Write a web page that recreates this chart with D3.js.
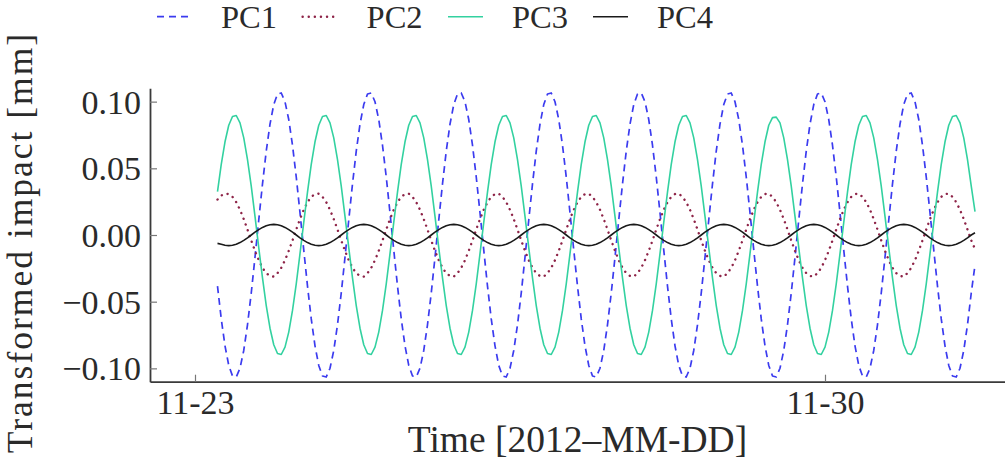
<!DOCTYPE html>
<html>
<head>
<meta charset="utf-8">
<script src="https://cdn.jsdelivr.net/npm/d3@7"></script>
<style>
  html, body { margin: 0; padding: 0; background: #fff; }
  svg { display: block; }
  text { font-family: "Liberation Serif", "DejaVu Serif", serif; fill: #2a2a2a; }
</style>
</head>
<body>
<svg id="chart" width="1005" height="473"></svg>
<script>
// ---- data (hourly samples, 2012-11-23 06:00 .. 2012-12-01 16:00) ----
const startTime = "2012-11-23T06:00:00";
const stepHours = 1;
const seriesNames = ["PC1", "PC2", "PC3", "PC4"];

const pc1 = [
  -0.0383, -0.0629, -0.0831, -0.0978, -0.1057, -0.1065, -0.0999, -0.0866, -0.0673, -0.0435, -0.0167, 0.0112, 0.0383, 0.0629, 0.0831, 0.0978, 0.1057, 0.1065,
  0.0999, 0.0866, 0.0673, 0.0435, 0.0167, -0.0112, -0.0383, -0.0629, -0.0831, -0.0978, -0.1057, -0.1065, -0.0999, -0.0866, -0.0673, -0.0435, -0.0167, 0.0112, 0.0383, 0.0629, 0.0831, 0.0978, 0.1057, 0.1065,
  0.0999, 0.0866, 0.0673, 0.0435, 0.0167, -0.0112, -0.0383, -0.0629, -0.0831, -0.0978, -0.1057, -0.1065, -0.0999, -0.0866, -0.0673, -0.0435, -0.0167, 0.0112, 0.0383, 0.0629, 0.0831, 0.0978, 0.1057, 0.1065,
  0.0999, 0.0866, 0.0673, 0.0435, 0.0167, -0.0112, -0.0383, -0.0629, -0.0831, -0.0978, -0.1057, -0.1065, -0.0999, -0.0866, -0.0673, -0.0435, -0.0167, 0.0112, 0.0383, 0.0629, 0.0831, 0.0978, 0.1057, 0.1065,
  0.0999, 0.0866, 0.0673, 0.0435, 0.0167, -0.0112, -0.0383, -0.0629, -0.0831, -0.0978, -0.1057, -0.1065, -0.0999, -0.0866, -0.0673, -0.0435, -0.0167, 0.0112, 0.0383, 0.0629, 0.0831, 0.0978, 0.1057, 0.1065,
  0.0999, 0.0866, 0.0673, 0.0435, 0.0167, -0.0112, -0.0383, -0.0629, -0.0831, -0.0978, -0.1057, -0.1065, -0.0999, -0.0866, -0.0673, -0.0435, -0.0167, 0.0112, 0.0383, 0.0629, 0.0831, 0.0978, 0.1057, 0.1065,
  0.0999, 0.0866, 0.0673, 0.0435, 0.0167, -0.0112, -0.0383, -0.0629, -0.0831, -0.0978, -0.1057, -0.1065, -0.0999, -0.0866, -0.0673, -0.0435, -0.0167, 0.0112, 0.0383, 0.0629, 0.0831, 0.0978, 0.1057, 0.1065,
  0.0999, 0.0866, 0.0673, 0.0435, 0.0167, -0.0112, -0.0383, -0.0629, -0.0831, -0.0978, -0.1057, -0.1065, -0.0999, -0.0866, -0.0673, -0.0435, -0.0167, 0.0112, 0.0383, 0.0629, 0.0831, 0.0978, 0.1057, 0.1065,
  0.0999, 0.0866, 0.0673, 0.0435, 0.0167, -0.0112, -0.0383, -0.0629, -0.0831, -0.0978, -0.1057, -0.1065, -0.0999, -0.0866, -0.0673, -0.0435, -0.0225
];

const pc2 = [
  0.0266, 0.0296, 0.0310, 0.0307, 0.0286, 0.0246, 0.0189, 0.0119, 0.0041, -0.0041, -0.0119, -0.0189, -0.0246, -0.0286, -0.0307, -0.0312, -0.0286, -0.0246,
  -0.0189, -0.0119, -0.0041, 0.0041, 0.0119, 0.0189, 0.0246, 0.0286, 0.0307, 0.0310, 0.0286, 0.0246, 0.0189, 0.0119, 0.0041, -0.0041, -0.0119, -0.0189, -0.0246, -0.0286, -0.0307, -0.0312, -0.0286, -0.0246,
  -0.0189, -0.0119, -0.0041, 0.0041, 0.0119, 0.0189, 0.0246, 0.0286, 0.0307, 0.0310, 0.0286, 0.0246, 0.0189, 0.0119, 0.0041, -0.0041, -0.0119, -0.0189, -0.0246, -0.0286, -0.0307, -0.0312, -0.0286, -0.0246,
  -0.0189, -0.0119, -0.0041, 0.0041, 0.0119, 0.0189, 0.0246, 0.0286, 0.0307, 0.0310, 0.0286, 0.0246, 0.0189, 0.0119, 0.0041, -0.0041, -0.0119, -0.0189, -0.0246, -0.0286, -0.0307, -0.0312, -0.0286, -0.0246,
  -0.0189, -0.0119, -0.0041, 0.0041, 0.0119, 0.0189, 0.0246, 0.0286, 0.0307, 0.0310, 0.0286, 0.0246, 0.0189, 0.0119, 0.0041, -0.0041, -0.0119, -0.0189, -0.0246, -0.0286, -0.0307, -0.0312, -0.0286, -0.0246,
  -0.0189, -0.0119, -0.0041, 0.0041, 0.0119, 0.0189, 0.0246, 0.0286, 0.0307, 0.0310, 0.0286, 0.0246, 0.0189, 0.0119, 0.0041, -0.0041, -0.0119, -0.0189, -0.0246, -0.0286, -0.0307, -0.0312, -0.0286, -0.0246,
  -0.0189, -0.0119, -0.0041, 0.0041, 0.0119, 0.0189, 0.0246, 0.0286, 0.0307, 0.0310, 0.0286, 0.0246, 0.0189, 0.0119, 0.0041, -0.0041, -0.0119, -0.0189, -0.0246, -0.0286, -0.0307, -0.0312, -0.0286, -0.0246,
  -0.0189, -0.0119, -0.0041, 0.0041, 0.0119, 0.0189, 0.0246, 0.0286, 0.0307, 0.0310, 0.0286, 0.0246, 0.0189, 0.0119, 0.0041, -0.0041, -0.0119, -0.0189, -0.0246, -0.0286, -0.0307, -0.0312, -0.0286, -0.0246,
  -0.0189, -0.0119, -0.0041, 0.0041, 0.0119, 0.0189, 0.0246, 0.0286, 0.0307, 0.0310, 0.0286, 0.0246, 0.0189, 0.0119, 0.0041, -0.0041, -0.0105
];

const pc3 = [
  0.0325, 0.0529, 0.0699, 0.0823, 0.0889, 0.0896, 0.0841, 0.0728, 0.0566, 0.0366, 0.0140, -0.0095, -0.0322, -0.0529, -0.0699, -0.0823, -0.0889, -0.0896,
  -0.0841, -0.0728, -0.0566, -0.0366, -0.0140, 0.0095, 0.0322, 0.0529, 0.0699, 0.0823, 0.0889, 0.0896, 0.0841, 0.0728, 0.0566, 0.0366, 0.0140, -0.0095, -0.0322, -0.0529, -0.0699, -0.0823, -0.0889, -0.0896,
  -0.0841, -0.0728, -0.0566, -0.0366, -0.0140, 0.0095, 0.0322, 0.0529, 0.0699, 0.0823, 0.0889, 0.0896, 0.0841, 0.0728, 0.0566, 0.0366, 0.0140, -0.0095, -0.0322, -0.0529, -0.0699, -0.0823, -0.0889, -0.0896,
  -0.0841, -0.0728, -0.0566, -0.0366, -0.0140, 0.0095, 0.0322, 0.0529, 0.0699, 0.0823, 0.0889, 0.0896, 0.0841, 0.0728, 0.0566, 0.0366, 0.0140, -0.0095, -0.0322, -0.0529, -0.0699, -0.0823, -0.0889, -0.0896,
  -0.0841, -0.0728, -0.0566, -0.0366, -0.0140, 0.0095, 0.0322, 0.0529, 0.0699, 0.0823, 0.0889, 0.0896, 0.0841, 0.0728, 0.0566, 0.0366, 0.0140, -0.0095, -0.0322, -0.0529, -0.0699, -0.0823, -0.0889, -0.0896,
  -0.0841, -0.0728, -0.0566, -0.0366, -0.0140, 0.0095, 0.0322, 0.0529, 0.0699, 0.0823, 0.0889, 0.0896, 0.0841, 0.0728, 0.0566, 0.0366, 0.0140, -0.0095, -0.0322, -0.0529, -0.0699, -0.0823, -0.0889, -0.0896,
  -0.0841, -0.0728, -0.0566, -0.0366, -0.0140, 0.0095, 0.0322, 0.0529, 0.0699, 0.0823, 0.0880, 0.0884, 0.0841, 0.0728, 0.0566, 0.0366, 0.0140, -0.0095, -0.0322, -0.0529, -0.0699, -0.0823, -0.0889, -0.0896,
  -0.0841, -0.0728, -0.0566, -0.0366, -0.0140, 0.0095, 0.0322, 0.0529, 0.0699, 0.0823, 0.0889, 0.0896, 0.0841, 0.0728, 0.0566, 0.0366, 0.0140, -0.0095, -0.0322, -0.0529, -0.0699, -0.0823, -0.0889, -0.0896,
  -0.0841, -0.0728, -0.0566, -0.0366, -0.0140, 0.0095, 0.0322, 0.0529, 0.0699, 0.0823, 0.0889, 0.0896, 0.0841, 0.0728, 0.0566, 0.0366, 0.0175
];

const pc4 = [
  -0.0063, -0.0069, -0.0077, -0.0080, -0.0077, -0.0069, -0.0057, -0.0040, -0.0021, 0.0000, 0.0021, 0.0040, 0.0057, 0.0069, 0.0077, 0.0080, 0.0077, 0.0069,
  0.0057, 0.0040, 0.0021, 0.0000, -0.0021, -0.0040, -0.0057, -0.0069, -0.0077, -0.0080, -0.0077, -0.0069, -0.0057, -0.0040, -0.0021, 0.0000, 0.0021, 0.0040, 0.0057, 0.0069, 0.0077, 0.0080, 0.0077, 0.0069,
  0.0057, 0.0040, 0.0021, 0.0000, -0.0021, -0.0040, -0.0057, -0.0069, -0.0077, -0.0080, -0.0077, -0.0069, -0.0057, -0.0040, -0.0021, 0.0000, 0.0021, 0.0040, 0.0057, 0.0069, 0.0077, 0.0080, 0.0077, 0.0069,
  0.0057, 0.0040, 0.0021, 0.0000, -0.0021, -0.0040, -0.0057, -0.0069, -0.0077, -0.0080, -0.0077, -0.0069, -0.0057, -0.0040, -0.0021, 0.0000, 0.0021, 0.0040, 0.0057, 0.0069, 0.0077, 0.0080, 0.0077, 0.0069,
  0.0057, 0.0040, 0.0021, 0.0000, -0.0021, -0.0040, -0.0057, -0.0069, -0.0077, -0.0080, -0.0077, -0.0069, -0.0057, -0.0040, -0.0021, 0.0000, 0.0021, 0.0040, 0.0057, 0.0069, 0.0077, 0.0080, 0.0077, 0.0069,
  0.0057, 0.0040, 0.0021, 0.0000, -0.0021, -0.0040, -0.0057, -0.0069, -0.0077, -0.0080, -0.0077, -0.0069, -0.0057, -0.0040, -0.0021, 0.0000, 0.0021, 0.0040, 0.0057, 0.0069, 0.0077, 0.0080, 0.0077, 0.0069,
  0.0057, 0.0040, 0.0021, 0.0000, -0.0021, -0.0040, -0.0057, -0.0069, -0.0077, -0.0080, -0.0077, -0.0069, -0.0057, -0.0040, -0.0021, 0.0000, 0.0021, 0.0040, 0.0057, 0.0069, 0.0077, 0.0080, 0.0077, 0.0069,
  0.0057, 0.0040, 0.0021, 0.0000, -0.0021, -0.0040, -0.0057, -0.0069, -0.0077, -0.0080, -0.0077, -0.0069, -0.0057, -0.0040, -0.0021, 0.0000, 0.0021, 0.0040, 0.0057, 0.0069, 0.0077, 0.0080, 0.0077, 0.0069,
  0.0057, 0.0040, 0.0021, 0.0000, -0.0021, -0.0040, -0.0057, -0.0069, -0.0077, -0.0080, -0.0077, -0.0069, -0.0057, -0.0040, -0.0021, 0.0000, 0.0017
];

const xTickLabels = ["2012-11-23", "2012-11-30"];
const yTickValues = [-0.10, -0.05, 0.00, 0.05, 0.10];
const xDomain = ["2012-11-22T12:00:00", "2012-12-02T00:00:00"];
const yDomain = [-0.11, 0.11];

// ---- layout / style ----
const margin = { left: 150, right: 0, top: 88.3, bottom: 91.3 };
const W = 1005, H = 473;
const styles = {
  PC1: { color: "#3b3bef", dash: "7,5", width: 1.7, cap: "butt" },
  PC2: { color: "#8e2448", dash: "0.1,6", width: 2.4, cap: "round" },
  PC3: { color: "#33d1a0", dash: null, width: 1.6, cap: "butt" },
  PC4: { color: "#1a1a1a", dash: null, width: 1.6, cap: "butt" }
};

const svg = d3.select("#chart");
const parse = d3.isoParse;
const t0 = parse(startTime);
const values = { PC1: pc1, PC2: pc2, PC3: pc3, PC4: pc4 };

const x = d3.scaleTime()
  .domain(xDomain.map(parse))
  .range([margin.left, W - margin.right]);
const y = d3.scaleLinear()
  .domain(yDomain)
  .range([H - margin.bottom, margin.top]);

// lines
const line = d3.line()
  .x((d, i) => x(d3.timeHour.offset(t0, i * stepHours)))
  .y(d => y(d));

const plot = svg.append("g");
seriesNames.forEach(name => {
  const s = styles[name];
  plot.append("path")
    .attr("d", line(values[name]))
    .attr("fill", "none")
    .attr("stroke", s.color)
    .attr("stroke-width", s.width)
    .attr("stroke-dasharray", s.dash)
    .attr("stroke-linecap", s.cap)
    .attr("stroke-linejoin", "round");
});

// axes
const xAxis = d3.axisBottom(x)
  .tickValues(xTickLabels.map(d => parse(d)))
  .tickFormat(d3.timeFormat("%m-%d"))
  .tickSizeInner(-7)
  .tickSizeOuter(0)
  .tickPadding(6);
const yAxis = d3.axisLeft(y)
  .tickValues(yTickValues)
  .tickFormat(d3.format(".2f"))
  .tickSizeInner(-7)
  .tickSizeOuter(0)
  .tickPadding(9);

const gx = svg.append("g")
  .attr("transform", `translate(0,${H - margin.bottom})`)
  .call(xAxis);
const gy = svg.append("g")
  .attr("transform", `translate(${margin.left},0)`)
  .call(yAxis);

[gx, gy].forEach(g => {
  g.select(".domain").attr("stroke", "#3a3a3a").attr("stroke-width", 1.8);
  g.selectAll(".tick line").attr("stroke", "#777").attr("stroke-width", 1.2);
  g.selectAll(".tick text")
    .attr("fill", "#2a2a2a")
    .style("font-family", '"Liberation Serif", serif')
    .style("font-size", "34px");
});
gx.selectAll(".tick text").attr("dy", "0.78em");
gy.selectAll(".tick text").attr("dy", "0.34em");

// axis titles
svg.append("text")
  .attr("x", (margin.left + W - margin.right) / 2)
  .attr("y", 452)
  .attr("text-anchor", "middle")
  .style("font-size", "37.5px")
  .text("Time [2012–MM-DD]");

svg.append("text")
  .attr("transform", `translate(31.5,242.5) rotate(-90)`)
  .attr("text-anchor", "middle")
  .style("font-size", "35.5px")
  .style("letter-spacing", "2px")
  .text("Transformed impact [mm]");

// legend
const legendX = [157, 302.6, 448, 593];
const legend = svg.append("g");
seriesNames.forEach((name, i) => {
  const s = styles[name];
  const g = legend.append("g").attr("transform", `translate(${legendX[i]},0)`);
  g.append("line")
    .attr("x1", 0).attr("x2", 35)
    .attr("y1", 16.7).attr("y2", 16.7)
    .attr("stroke", s.color)
    .attr("stroke-width", s.width)
    .attr("stroke-dasharray", s.dash)
    .attr("stroke-linecap", s.cap);
  g.append("text")
    .attr("x", 64)
    .attr("y", 27.5)
    .style("font-size", "32.5px")
    .text(name);
});
</script>
</body>
</html>
